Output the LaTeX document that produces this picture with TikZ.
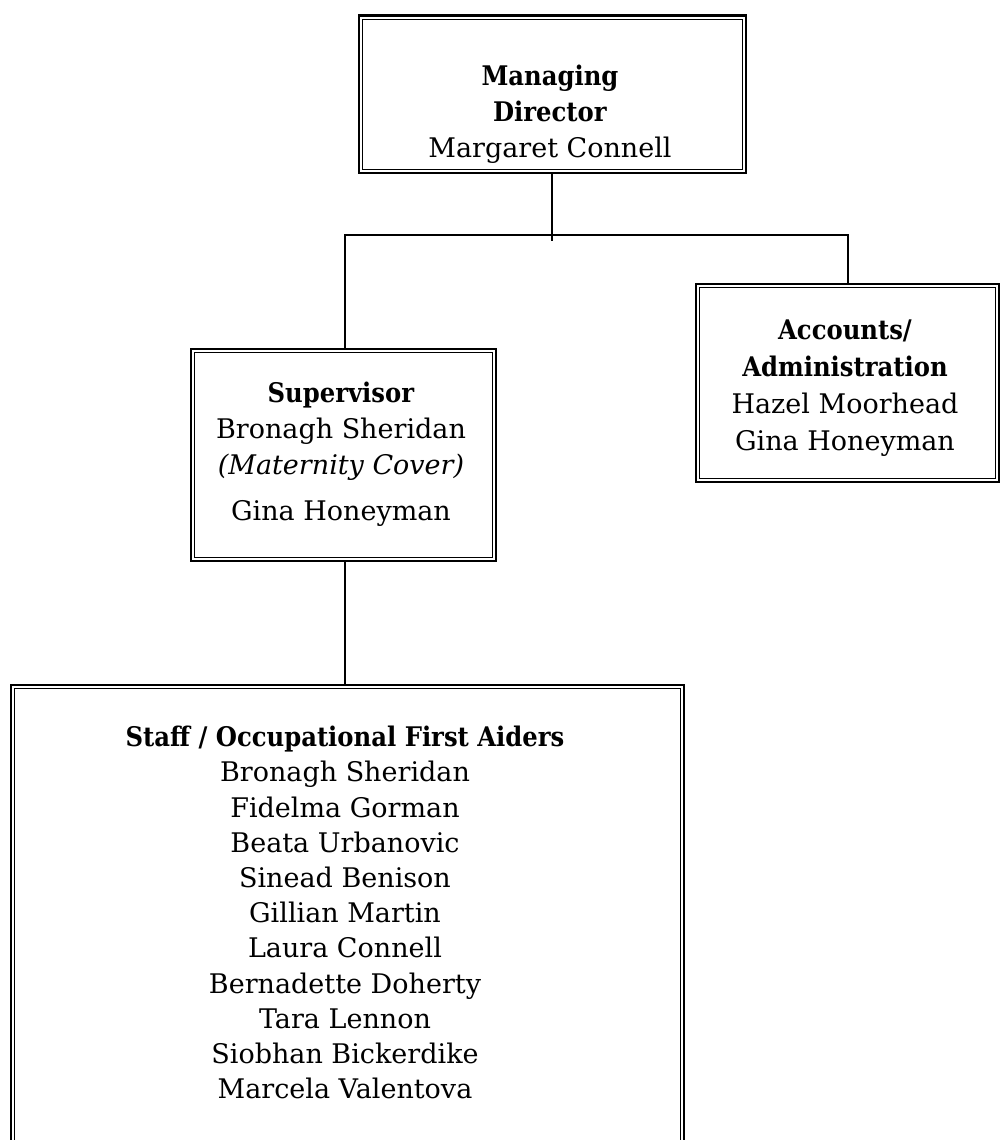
\documentclass[tikz,border=0pt]{standalone}
\usepackage{fontspec}
\setmainfont{DejaVu Serif}[BoldFont={DejaVu Serif Condensed Bold}]
\begin{document}
\begin{tikzpicture}[x=1pt,y=-1pt,
  box/.style={draw, line width=2.8pt, inner sep=0pt, anchor=north west},
  txt/.style={align=center, font=\fontsize{27}{36}\selectfont, inner sep=0pt},
  conn/.style={line width=1.5pt}]
\useasboundingbox (0,0) rectangle (999,1140);
% boxes
\node[box, minimum width=387pt, minimum height=157pt] (md) at (357.5,14.5) {};
\node[box, minimum width=305pt, minimum height=212pt] (sup) at (189.5,347.5) {};
\node[box, minimum width=303pt, minimum height=198pt] (acc) at (694.5,282.5) {};
\node[box, minimum width=673pt, minimum height=500pt] (staff) at (9.5,683.5) {};
\foreach \n in {md,sup,acc,staff}
  \draw[line width=1.1pt] ([shift={(4.6pt,-4.6pt)}]\n.north west) rectangle ([shift={(-4.6pt,4.6pt)}]\n.south east);
% texts
\node[txt] (mdt) at (550,114) {\textbf{Managing}\\\textbf{Director}\\Margaret Connell};
\node[txt] (supt) at (341,454) {\textbf{Supervisor}\\Bronagh Sheridan\\\textit{(Maternity Cover)}\\[10pt] Gina Honeyman};
\node[txt, font=\fontsize{27}{37}\selectfont] (acct) at (845,388) {\textbf{Accounts/}\\\textbf{Administration}\\Hazel Moorhead\\Gina Honeyman};
\node[txt, font=\fontsize{27}{35.2}\selectfont, anchor=north] (stafft) at (345,726) {\textbf{Staff / Occupational First Aiders}\\Bronagh Sheridan\\Fidelma Gorman\\Beata Urbanovic\\Sinead Benison\\Gillian Martin\\Laura Connell\\Bernadette Doherty\\Tara Lennon\\Siobhan Bickerdike\\Marcela Valentova};
% connectors
\coordinate (j) at (552,241);
\coordinate (hl) at (345,235);
\coordinate (hr) at (848,235);
\draw[conn] (md.south -| j) -- (j);
\draw[conn] (sup.north -| hl) -- (hl) -- (hr) -- (acc.north -| hr);
\draw[conn] (sup.south -| hl) -- (staff.north -| hl);
\end{tikzpicture}
\end{document}
